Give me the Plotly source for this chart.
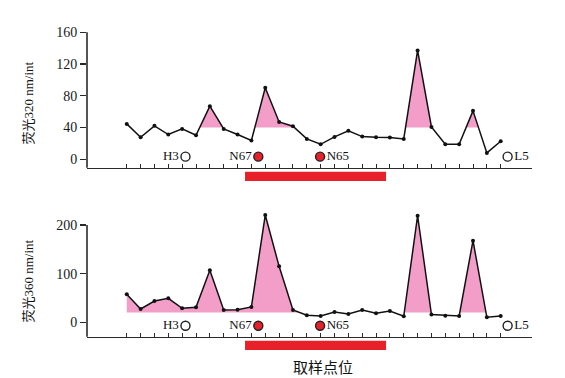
import plotly.graph_objects as go

# ---------------- data ----------------
sample_idx = list(range(28))
fluor_320 = [44.6, 27.8, 42.1, 31.2, 38.3, 30.3, 66.9, 38.3, 31.2, 23.6,
             90.1, 47.0, 41.7, 25.7, 18.9, 28.2, 35.8, 28.6, 27.8, 27.4,
             25.7, 137.2, 40.8, 18.9, 18.9, 61.0, 8.0, 22.7]
fluor_360 = [57.5, 27.4, 43.8, 49.3, 28.8, 30.8, 106.8, 25.3, 26.0, 31.5,
             220.5, 115.0, 25.3, 14.4, 13.0, 21.2, 17.1, 25.3, 18.5, 23.3,
             12.3, 219.0, 15.8, 13.7, 13.0, 167.8, 10.3, 13.0]
base_320 = 40
base_360 = 20
peaks_320 = [(5, 7), (9, 12), (20, 22), (24, 26)]
peaks_360 = [(0, 13), (20, 22), (24, 26)]

site_names = ["H3", "N67", "N65", "L5"]
site_pos = [4.24, 9.5, 13.96, 27.5]
site_filled = [False, True, True, False]
site_text_side = ["left", "left", "right", "right"]
site_level_320 = 3.3
site_level_360 = -7.0

red_span = [8.54, 18.72]

yticks_320 = [0, 40, 80, 120, 160]
yticks_360 = [0, 100, 200]

# ---------------- layout constants ----------------
W, H = 565, 378
X_DOM = [87 / W, 532 / W]
X_RANGE = [-2.87, 29.26]
TOP_DOM = [1 - 167.7 / H, 1 - 32.3 / H]
TOP_RANGE = [-10.6, 160]
BOT_DOM = [1 - 336.7 / H, 1 - 210.4 / H]
BOT_RANGE = [-29.6, 230]

PINK = "#F29EC8"
RED = "#E8202A"
AXC = "#2a2a2a"
SERIF = "Liberation Serif, Times New Roman, Noto Sans CJK SC, serif"
CJK = "Noto Sans CJK SC, sans-serif"


def clipped_fill(xs, ys, base, ranges):
    fx, fy = [], []
    for a, b in ranges:
        px, py = [], []
        if ys[a] > base:
            px.append(xs[a]); py.append(base)
        for i in range(a, b + 1):
            if ys[i] > base:
                px.append(xs[i]); py.append(ys[i])
            if i < b and (ys[i] - base) * (ys[i + 1] - base) < 0:
                t = (base - ys[i]) / (ys[i + 1] - ys[i])
                px.append(xs[i] + t * (xs[i + 1] - xs[i])); py.append(base)
        if ys[b] > base:
            px.append(xs[b]); py.append(base)
        fx += px + [None]
        fy += py + [None]
    return fx, fy


def to_paper(v, rng, dom):
    return dom[0] + (v - rng[0]) / (rng[1] - rng[0]) * (dom[1] - dom[0])


fig = go.Figure()

panels = [
    (fluor_320, base_320, peaks_320, "x", "y", site_level_320),
    (fluor_360, base_360, peaks_360, "x2", "y2", site_level_360),
]

for ys, base, peaks, xa, ya, lvl in panels:
    fx, fy = clipped_fill(sample_idx, ys, base, peaks)
    fig.add_trace(go.Scatter(x=fx, y=fy, mode="lines", fill="toself",
                             fillcolor=PINK, line=dict(width=0),
                             hoverinfo="skip", showlegend=False,
                             xaxis=xa, yaxis=ya))
    fig.add_trace(go.Scatter(x=sample_idx, y=ys, mode="lines+markers",
                             line=dict(color="#111", width=1.5),
                             marker=dict(color="#111", size=4),
                             showlegend=False, xaxis=xa, yaxis=ya))
    for name, pos, filled, side in zip(site_names, site_pos, site_filled, site_text_side):
        fig.add_trace(go.Scatter(
            x=[pos], y=[lvl], mode="markers+text", text=[name],
            textposition="middle left" if side == "left" else "middle right",
            textfont=dict(family=SERIF, size=13, color="#111"),
            marker=dict(symbol="circle", size=9,
                        color=RED if filled else "white",
                        line=dict(color="#222", width=1.4)),
            cliponaxis=False, showlegend=False, xaxis=xa, yaxis=ya))

shapes = []
# y-axis lines (from x-axis up to top tick)
for rng, dom, top in [(TOP_RANGE, TOP_DOM, yticks_320[-1]), (BOT_RANGE, BOT_DOM, yticks_360[-1])]:
    shapes.append(dict(type="line", xref="paper", yref="paper",
                       x0=X_DOM[0], x1=X_DOM[0],
                       y0=dom[0], y1=to_paper(top, rng, dom),
                       line=dict(color=AXC, width=1.6)))
# red bars below each panel
for xr, dom in [("x", TOP_DOM), ("x2", BOT_DOM)]:
    shapes.append(dict(type="rect", xref=xr, yref="paper",
                       x0=red_span[0], x1=red_span[1],
                       y0=dom[0] - 13.3 / H, y1=dom[0] - 4.0 / H,
                       fillcolor=RED, line=dict(width=0)))

xaxis_common = dict(range=X_RANGE, domain=X_DOM, showgrid=False, zeroline=False,
                    showline=True, linecolor=AXC, linewidth=1.6,
                    ticks="inside", ticklen=4, tickwidth=1, tickcolor=AXC,
                    tickvals=sample_idx, showticklabels=False, fixedrange=True)
yaxis_common = dict(showgrid=False, zeroline=False, showline=False,
                    ticks="outside", ticklen=6, tickwidth=1.4, tickcolor=AXC,
                    tickfont=dict(family=SERIF, size=14, color="#1a1a1a"),
                    fixedrange=True)

fig.update_layout(
    width=W, height=H, margin=dict(l=0, r=0, t=0, b=0, autoexpand=False),
    paper_bgcolor="white", plot_bgcolor="rgba(0,0,0,0)",
    xaxis=dict(**xaxis_common, anchor="y"),
    yaxis=dict(**yaxis_common, range=TOP_RANGE, domain=TOP_DOM,
               tickvals=yticks_320, anchor="x"),
    xaxis2=dict(**xaxis_common, anchor="y2"),
    yaxis2=dict(**yaxis_common, range=BOT_RANGE, domain=BOT_DOM,
                tickvals=yticks_360, anchor="x2"),
    shapes=shapes,
    annotations=[
        dict(text="荧光320 nm/int", xref="paper", yref="paper",
             x=27.5 / W, y=1 - 103 / H, textangle=-90, showarrow=False,
             xanchor="center", yanchor="middle",
             font=dict(family=SERIF, size=13, color="#111")),
        dict(text="荧光360 nm/int", xref="paper", yref="paper",
             x=27.5 / W, y=1 - 281 / H, textangle=-90, showarrow=False,
             xanchor="center", yanchor="middle",
             font=dict(family=SERIF, size=13, color="#111")),
        dict(text="取样点位", xref="paper", yref="paper",
             x=323 / W, y=1 - 366.7 / H, showarrow=False,
             xanchor="center", yanchor="middle",
             font=dict(family=CJK, size=15, color="#111")),
    ],
)

fig.write_html(
    "out.html",
    config={"displayModeBar": False, "staticPlot": True},
    post_script="document.body.style.margin='0';document.body.style.padding='0';"
                "document.documentElement.style.overflow='hidden';",
)
